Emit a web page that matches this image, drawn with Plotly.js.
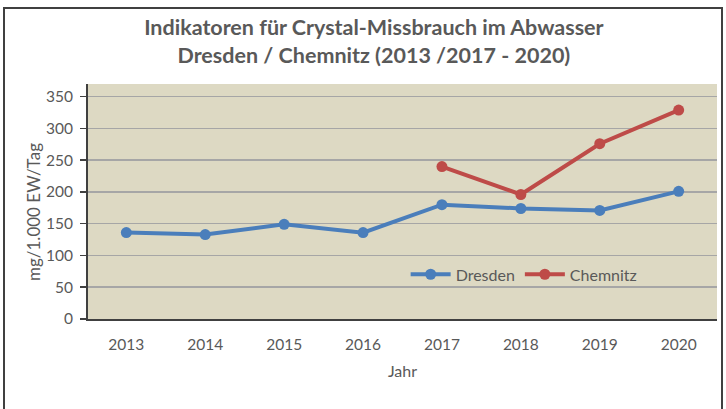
<!DOCTYPE html>
<html>
<head>
<meta charset="utf-8">
<script src="https://cdn.plot.ly/plotly-3.0.1.min.js"></script>
<style>
html,body{margin:0;padding:0;background:#fff;}
#chart{width:726px;height:409px;}
</style>
</head>
<body>
<div id="chart"></div>
<script>
const years = ['2013','2014','2015','2016','2017','2018','2019','2020'];
const dresden = [136, 133, 149, 136, 180, 174, 171, 201];
const chemnitz = [null, null, null, null, 240, 196, 276, 329];
const yTicks = [0, 50, 100, 150, 200, 250, 300, 350];

const font = 'Lato, "Open Sans", sans-serif';
const txt = '#595959';

const traces = [
  {x: years, y: dresden, name: 'Dresden', type: 'scatter', mode: 'lines+markers',
   line: {color: '#4A7EBB', width: 4}, marker: {color: '#4A7EBB', size: 11}},
  {x: years, y: chemnitz, name: 'Chemnitz', type: 'scatter', mode: 'lines+markers',
   line: {color: '#BE4B48', width: 4}, marker: {color: '#BE4B48', size: 11}}
];

const layout = {
  width: 726, height: 409,
  margin: {l: 88, r: 9, t: 84, b: 90},
  paper_bgcolor: '#ffffff',
  plot_bgcolor: '#DDD9C3',
  font: {family: font, size: 15.5, color: txt},
  title: {
    text: '<b>Indikatoren für Crystal-Missbrauch im Abwasser<br>Dresden / Chemnitz (2013 /2017 - 2020)</b>',
    font: {family: font, size: 21.5, color: txt},
    x: 0.515, xanchor: 'center', xref: 'container',
    y: 0.915, yanchor: 'middle', yref: 'container'
  },
  xaxis: {
    type: 'category',
    showgrid: false,
    showline: true, linecolor: '#404040', linewidth: 2,
    ticks: '', ticklabelstandoff: 10,
    tickfont: {family: font, size: 15.5, color: txt},
    title: {text: 'Jahr', font: {family: font, size: 16, color: txt}, standoff: 14},
    fixedrange: true
  },
  yaxis: {
    range: [0, 370],
    tickvals: yTicks,
    ticktext: yTicks.map(String),
    showgrid: true, gridcolor: '#A6A6A6', gridwidth: 1.5,
    zeroline: false,
    showline: true, linecolor: '#404040', linewidth: 2,
    ticks: 'outside', ticklen: 6, tickcolor: '#404040', tickwidth: 1.5,
    ticklabelstandoff: 4,
    tickfont: {family: font, size: 15.5, color: txt},
    fixedrange: true
  },
  showlegend: true,
  legend: {
    orientation: 'h',
    x: 0.505, xanchor: 'left',
    y: 0.19, yanchor: 'middle',
    bgcolor: 'rgba(0,0,0,0)',
    font: {family: font, size: 16, color: txt},
    itemwidth: 40,
    tracegroupgap: 0
  },
  annotations: [
    {text: 'mg/1.000 EW/Tag', textangle: -90, showarrow: false,
     xref: 'paper', yref: 'paper', x: (33 - 88) / 629, y: (319 - 212) / 235,
     xanchor: 'center', yanchor: 'middle',
     font: {family: font, size: 17, color: txt}}
  ],
  shapes: [
    {type: 'rect', xref: 'paper', yref: 'paper',
     x0: (4 - 88) / 629, x1: (722 - 88) / 629,
     y0: -0.6, y1: (319 - 8) / 235,
     line: {color: '#404040', width: 2}, fillcolor: 'rgba(0,0,0,0)', layer: 'below'}
  ]
};

Plotly.newPlot('chart', traces, layout, {displayModeBar: false, staticPlot: true});
</script>
</body>
</html>
